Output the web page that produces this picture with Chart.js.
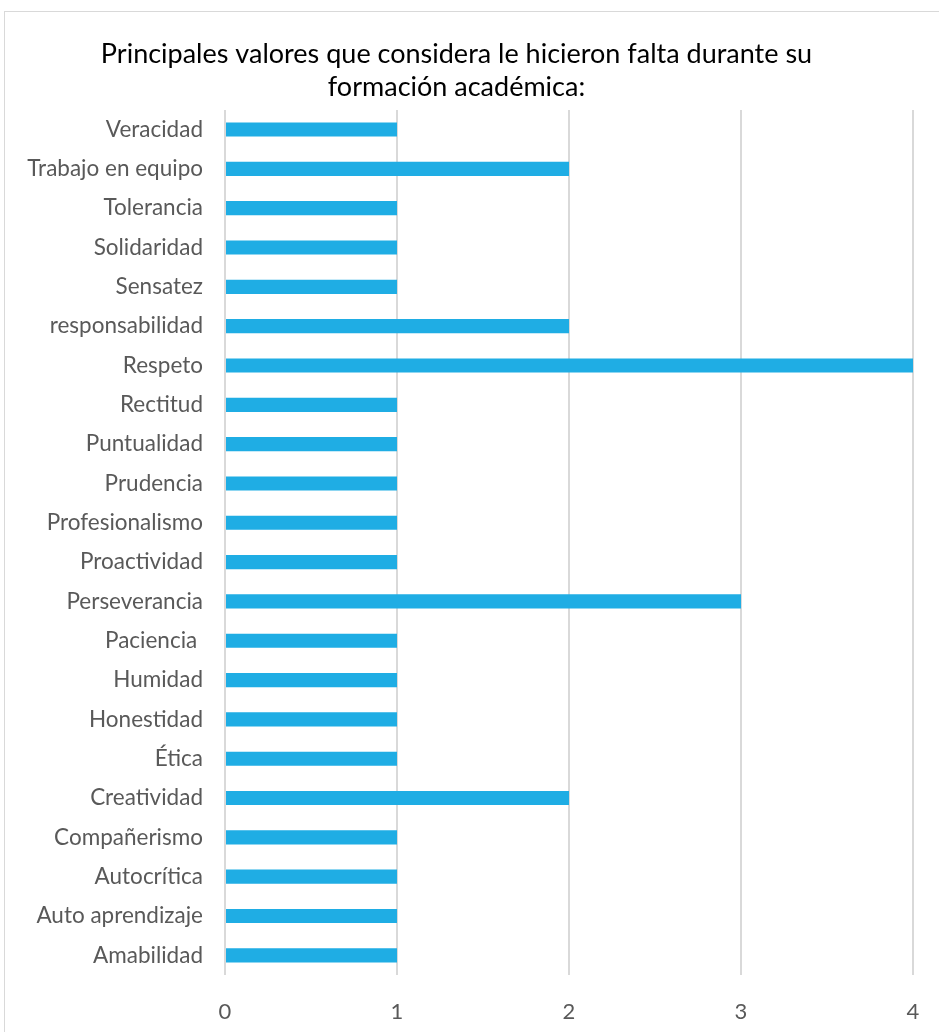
<!DOCTYPE html>
<html>
<head>
<meta charset="utf-8">
<script src="https://cdn.jsdelivr.net/npm/chart.js@4"></script>
<style>
  html, body { margin: 0; padding: 0; background: #fff; }
  #wrap { position: relative; width: 939px; height: 1032px; overflow: hidden; }
  #frame { position: absolute; left: 4px; top: 11px; width: 1000px; height: 1100px; border: 1px solid #d9d9d9; }
  canvas { position: absolute; left: 0; top: 0; }
</style>
</head>
<body>
<div id="wrap">
  <div id="frame"></div>
  <canvas id="valoresChart" width="939" height="1032"></canvas>
</div>
<script>
const titleLines = ['Principales valores que considera le hicieron falta durante su', 'formación académica:'];
const categories = [
    'Veracidad', 'Trabajo en equipo', 'Tolerancia', 'Solidaridad', 'Sensatez',
    'responsabilidad', 'Respeto', 'Rectitud', 'Puntualidad', 'Prudencia',
    'Profesionalismo', 'Proactividad', 'Perseverancia', 'Paciencia ', 'Humidad',
    'Honestidad', 'Ética', 'Creatividad', 'Compañerismo', 'Autocrítica',
    'Auto aprendizaje', 'Amabilidad'
];
const counts = [1, 2, 1, 1, 1, 2, 4, 1, 1, 1, 1, 1, 3, 1, 1, 1, 1, 2, 1, 1, 1, 1];
const xTicks = [0, 1, 2, 3, 4];

const labelFont = "Lato, 'Open Sans', sans-serif";
const gray = '#595959';

new Chart(document.getElementById('valoresChart').getContext('2d'), {
    type: 'bar',
    data: {
        labels: categories,
        datasets: [{
            data: counts,
            backgroundColor: '#1fade4',
            borderWidth: 0,
            barPercentage: 0.9,
            categoryPercentage: 0.4,
        }],
    },
    options: {
        indexAxis: 'y',
        responsive: false,
        animation: false,
        layout: { padding: { top: 30, left: 0, right: 26, bottom: 0 } },
        plugins: {
            legend: { display: false },
            tooltip: { enabled: false },
            title: {
                display: true,
                text: titleLines,
                color: '#000',
                font: { family: labelFont, size: 27, weight: 'normal', lineHeight: 1.22 },
                padding: { top: 8, bottom: 6 },
            },
        },
        scales: {
            x: {
                min: 0,
                max: 4,
                afterBuildTicks: (scale) => { scale.ticks = xTicks.map(v => ({ value: v })); },
                afterFit: (scale) => {
                    scale.height = 57;
                    scale.paddingLeft = 0;
                    scale.paddingRight = 0;
                },
                grid: { color: '#d9d9d9', lineWidth: 2, drawTicks: false },
                border: { display: false },
                ticks: { color: gray, padding: 24, font: { family: labelFont, size: 22 } },
            },
            y: {
                afterFit: (scale) => { scale.width = 225; },
                grid: { display: false, drawTicks: false },
                border: { display: false },
                ticks: { color: gray, padding: 22, font: { family: labelFont, size: 22.5 } },
            },
        },
    },
});
</script>
</body>
</html>
